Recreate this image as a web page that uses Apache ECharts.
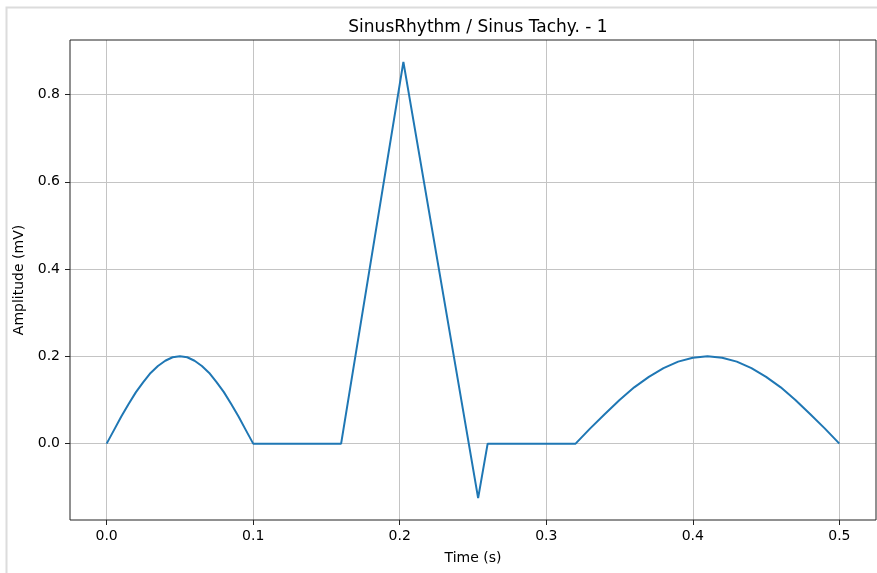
<!DOCTYPE html>
<html>
<head>
<meta charset="utf-8">
<script src="https://cdn.jsdelivr.net/npm/echarts@6/dist/echarts.min.js"></script>
<style>
  html, body { margin: 0; padding: 0; background: #fff; }
  #chart { width: 877px; height: 573px; }
</style>
</head>
<body>
<div id="chart"></div>
<script>
// time (s) and amplitude (mV)
const pTime = [0, 0.005, 0.01, 0.015, 0.02, 0.025, 0.03, 0.035, 0.04, 0.045, 0.05,
               0.055, 0.06, 0.065, 0.07, 0.075, 0.08, 0.085, 0.09, 0.095, 0.1];
const pAmp  = [0, 0.031, 0.062, 0.091, 0.118, 0.141, 0.162, 0.178, 0.190, 0.198, 0.2,
               0.198, 0.190, 0.178, 0.162, 0.141, 0.118, 0.091, 0.062, 0.031, 0];

const qrsTime = [0.16, 0.2025, 0.2535, 0.26, 0.32];
const qrsAmp  = [0, 0.875, -0.125, 0, 0];

const tTime = [0.33, 0.34, 0.35, 0.36, 0.37, 0.38, 0.39, 0.40, 0.41,
               0.42, 0.43, 0.44, 0.45, 0.46, 0.47, 0.48, 0.49, 0.5];
const tAmp  = [0.035, 0.068, 0.1, 0.129, 0.153, 0.173, 0.188, 0.197, 0.2,
               0.197, 0.188, 0.173, 0.153, 0.129, 0.1, 0.068, 0.035, 0];

const xTicks = [0, 0.1, 0.2, 0.3, 0.4, 0.5];
const yTicks = [0, 0.2, 0.4, 0.6, 0.8];

const ecg = [];
pTime.forEach((t, i) => ecg.push([t, pAmp[i]]));
qrsTime.forEach((t, i) => ecg.push([t, qrsAmp[i]]));
tTime.forEach((t, i) => ecg.push([t, tAmp[i]]));

const font = 'DejaVu Sans';
const chart = echarts.init(document.getElementById('chart'));
chart.setOption({
  animation: false,
  title: {
    text: 'SinusRhythm / Sinus Tachy. - 1',
    left: 473, top: 14, textAlign: 'center',
    textStyle: { fontFamily: font, fontSize: 17, fontWeight: 'normal', color: '#000' }
  },
  graphic: [
    { type: 'rect', shape: { x: 6.5, y: 7.5, width: 1000, height: 1000 },
      style: { fill: 'none', stroke: '#dcdcdc', lineWidth: 2 }, silent: true },
    { type: 'rect', shape: { x: 70, y: 40, width: 806, height: 480 }, z: 10,
      style: { fill: 'none', stroke: '#222', lineWidth: 1 }, silent: true }
  ],
  grid: { left: 70, top: 40, right: 1, bottom: 53, show: false },
  xAxis: {
    type: 'value', min: -0.025, max: 0.525,
    name: 'Time (s)', nameLocation: 'middle', nameGap: 31,
    nameTextStyle: { fontFamily: font, fontSize: 14, color: '#000' },
    axisLine: { show: false, onZero: false },
    axisTick: { show: true, customValues: xTicks, length: 5, lineStyle: { color: '#222' } },
    axisLabel: { customValues: xTicks, formatter: v => v.toFixed(1),
      fontFamily: font, fontSize: 14, color: '#000', margin: 9 },
    splitLine: { show: true, lineStyle: { color: '#c4c4c4', width: 1 } }
  },
  yAxis: {
    type: 'value', min: -0.175, max: 0.925,
    name: 'Amplitude (mV)', nameLocation: 'middle', nameGap: 36,
    nameTextStyle: { fontFamily: font, fontSize: 14, color: '#000' },
    axisLine: { show: false, onZero: false },
    axisTick: { show: true, customValues: yTicks, length: 5, lineStyle: { color: '#222' } },
    axisLabel: { customValues: yTicks, formatter: v => v.toFixed(1),
      fontFamily: font, fontSize: 14, color: '#000', margin: 10 },
    splitLine: { show: true, lineStyle: { color: '#c4c4c4', width: 1 } }
  },
  series: [{
    type: 'line', data: ecg, showSymbol: false, smooth: false,
    lineStyle: { color: '#1f77b4', width: 2 }, z: 5
  }]
});
</script>
</body>
</html>
